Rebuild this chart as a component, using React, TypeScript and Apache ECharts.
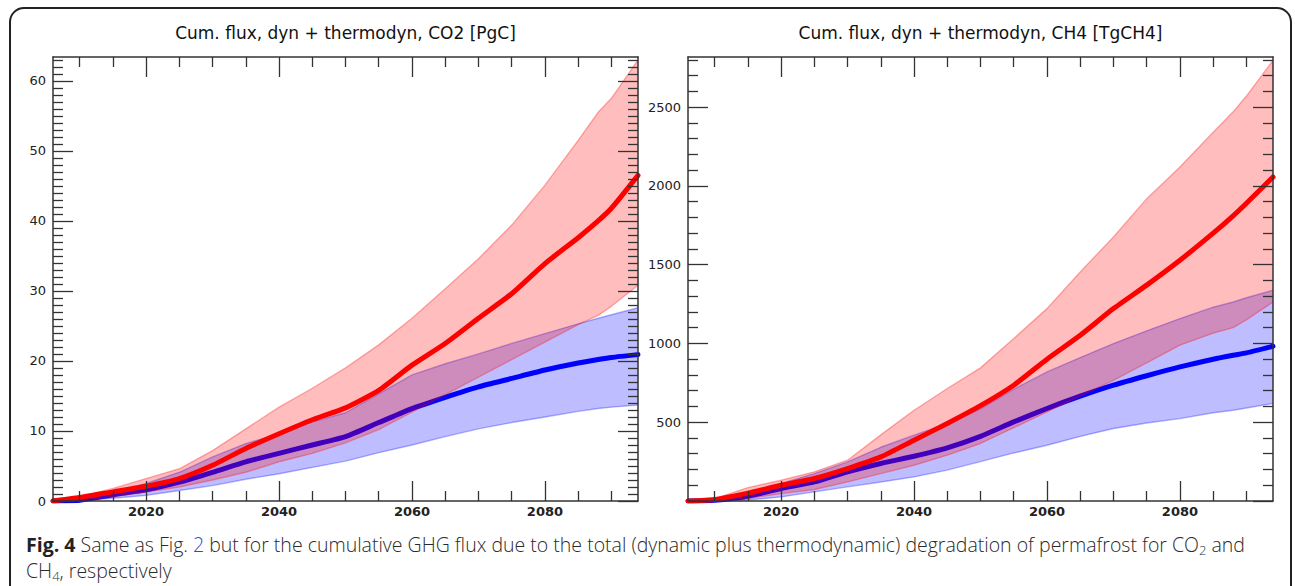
import React, { useEffect, useRef } from "react";
import * as echarts from "echarts";

// ---------- data ----------
const years = [2006, 2010, 2015, 2020, 2025, 2030, 2035, 2040, 2045, 2050, 2055, 2060, 2065, 2070, 2075, 2080, 2085, 2088, 2090, 2094];

const co2RedMean = [0, 0.5, 1.3, 2.1, 3.2, 5.1, 7.5, 9.6, 11.6, 13.3, 15.8, 19.4, 22.5, 26.1, 29.6, 33.9, 37.6, 40.0, 41.8, 46.5];
const co2RedUpper = [0, 0.6, 1.8, 3.2, 4.6, 7.2, 10.3, 13.4, 16.1, 19.0, 22.3, 26.1, 30.3, 34.6, 39.4, 45.1, 51.5, 55.5, 57.5, 63.0];
const co2RedLower = [0, 0.1, 0.6, 1.3, 2.0, 3.0, 4.1, 5.6, 6.8, 8.3, 10.2, 12.7, 15.2, 17.7, 20.2, 22.7, 25.2, 26.5, 27.8, 30.8];
const co2BlueMean = [0, 0.1, 0.9, 1.6, 2.7, 4.1, 5.6, 6.8, 8.0, 9.2, 11.2, 13.2, 14.8, 16.3, 17.5, 18.7, 19.7, 20.2, 20.5, 20.9];
const co2BlueUpper = [0, 0.2, 1.2, 2.5, 4.1, 6.3, 8.2, 9.6, 11.3, 12.6, 15.3, 18.0, 19.6, 21.0, 22.5, 23.9, 25.3, 26.1, 26.6, 27.6];
const co2BlueLower = [0, 0.05, 0.4, 0.8, 1.5, 2.2, 3.1, 3.9, 4.8, 5.7, 6.9, 8.0, 9.2, 10.3, 11.2, 12.0, 12.8, 13.2, 13.4, 13.7];

const ch4RedMean = [0, 10, 50, 100, 143, 206, 280, 386, 492, 605, 735, 900, 1052, 1221, 1370, 1528, 1700, 1810, 1890, 2057];
const ch4RedUpper = [0, 15, 85, 132, 185, 259, 420, 576, 714, 845, 1031, 1221, 1454, 1676, 1919, 2120, 2340, 2470, 2570, 2797];
const ch4RedLower = [0, 2, 16, 47, 73, 121, 174, 227, 291, 365, 465, 565, 665, 766, 877, 989, 1065, 1100, 1150, 1263];
const ch4BlueMean = [0, 5, 30, 79, 121, 185, 238, 284, 337, 410, 502, 587, 665, 735, 795, 851, 900, 925, 940, 982];
const ch4BlueUpper = [0, 8, 50, 111, 174, 248, 341, 418, 492, 585, 710, 819, 910, 999, 1080, 1158, 1230, 1263, 1290, 1338];
const ch4BlueLower = [0, 1, 6, 26, 58, 90, 121, 153, 196, 250, 305, 354, 410, 460, 495, 523, 560, 576, 590, 619];

const xMajor = [2020, 2040, 2060, 2080];
const xMinor = [2010, 2015, 2025, 2030, 2035, 2045, 2050, 2055, 2065, 2070, 2075, 2085, 2090];

const co2YLabels = [0, 10, 20, 30, 40, 50, 60];
const co2YMajor = [0, 10, 20, 30, 40, 50, 60];
const ch4YLabels = [500, 1000, 1500, 2000, 2500];
const ch4YMajor = [0, 500, 1000, 1500, 2000, 2500];

const titles = ["Cum. flux, dyn + thermodyn, CO2 [PgC]", "Cum. flux, dyn + thermodyn, CH4 [TgCH4]"];

// ---------- layout / style ----------
const X_MIN = 2006;
const X_MAX = 2094;
const CO2_MAX = 63.4;
const CH4_MAX = 2818;
const GRID_TOP = 57;
const GRID_H = 444;
const GRID_W = 585;
const GRID_LEFTS = [53, 688];
const AX = "#333";
const FONT = "DejaVu Sans";
const CAP_FONT = "Open Sans";
const CAP_SIZE = 19.5;

function minorTicks(step: number, max: number, majorStep: number) {
  const out: number[] = [];
  for (let v = step; v <= max + 1e-9; v += step) {
    const r = Math.round(v * 1000) / 1000;
    if (Math.abs(r / majorStep - Math.round(r / majorStep)) > 1e-6) out.push(r);
  }
  return out;
}

const co2YMinor = minorTicks(1, CO2_MAX, 10);
const ch4YMinor = minorTicks(100, CH4_MAX, 500);

const fmt = (v: number) => String(v);

function tickStyle(vals: number[], len: number) {
  return {
    show: true,
    inside: true,
    length: len,
    customValues: vals,
    lineStyle: { color: AX, width: 1.3 },
  };
}
const axLine = { show: true, onZero: false, lineStyle: { color: AX, width: 1.5 } };
const noLine = { show: false, onZero: false };

function xAxes(gridIndex: number) {
  const base = { type: "value", gridIndex, min: X_MIN, max: X_MAX, splitLine: { show: false }, z: 10 };
  return [
    {
      ...base,
      position: "bottom",
      axisLine: axLine,
      axisTick: tickStyle(xMajor, 20),
      axisLabel: {
        show: true,
        customValues: xMajor,
        formatter: fmt,
        margin: 4,
        color: "#222",
        fontFamily: FONT,
        fontSize: 13,
        fontWeight: "bold",
      },
    },
    { ...base, position: "bottom", axisLine: noLine, axisTick: tickStyle(xMinor, 10), axisLabel: { show: false } },
    { ...base, position: "top", axisLine: axLine, axisTick: tickStyle(xMajor, 20), axisLabel: { show: false } },
    { ...base, position: "top", axisLine: noLine, axisTick: tickStyle(xMinor, 10), axisLabel: { show: false } },
  ];
}

function yAxes(gridIndex: number, max: number, major: number[], minor: number[], labels: number[]) {
  const base = { type: "value", gridIndex, min: 0, max, splitLine: { show: false }, z: 10 };
  return [
    {
      ...base,
      position: "left",
      axisLine: axLine,
      axisTick: tickStyle(major, 20),
      axisLabel: {
        show: true,
        customValues: labels,
        formatter: fmt,
        margin: 7,
        color: "#222",
        fontFamily: FONT,
        fontSize: 13,
      },
    },
    { ...base, position: "left", axisLine: noLine, axisTick: tickStyle(minor, 10), axisLabel: { show: false } },
    { ...base, position: "right", axisLine: axLine, axisTick: tickStyle(major, 20), axisLabel: { show: false } },
    { ...base, position: "right", axisLine: noLine, axisTick: tickStyle(minor, 10), axisLabel: { show: false } },
  ];
}

function edgeLine(id: string, vals: number[], rgb: string, axisIdx: number, z: number) {
  return {
    type: "line",
    id,
    z,
    xAxisIndex: axisIdx,
    yAxisIndex: axisIdx,
    data: years.map((y, i) => [y, vals[i]]),
    symbol: "none",
    lineStyle: { color: `rgba(${rgb},0.3)`, width: 1.4 },
    silent: true,
  };
}

function band(id: string, lower: number[], upper: number[], rgb: string, axisIdx: number, z: number) {
  return [
    {
      type: "custom",
      id: id + "-fill",
      z,
      xAxisIndex: axisIdx,
      yAxisIndex: axisIdx,
      data: [[X_MIN, 0]],
      silent: true,
      renderItem: (_params: any, api: any) => {
        const pts: number[][] = [];
        for (let i = 0; i < years.length; i++) pts.push(api.coord([years[i], upper[i]]));
        for (let i = years.length - 1; i >= 0; i--) pts.push(api.coord([years[i], lower[i]]));
        return {
          type: "polygon",
          shape: { points: pts },
          style: { fill: `rgba(${rgb},0.26)`, stroke: "none" },
        };
      },
    },
    edgeLine(id + "-lo", lower, rgb, axisIdx, z),
    edgeLine(id + "-hi", upper, rgb, axisIdx, z),
  ];
}

function meanLine(id: string, vals: number[], color: string, axisIdx: number, z: number) {
  return {
    type: "line",
    id,
    z,
    xAxisIndex: axisIdx,
    yAxisIndex: axisIdx,
    data: years.map((y, i) => [y, vals[i]]),
    symbol: "none",
    smooth: 0.2,
    lineStyle: { color, width: 5, cap: "round", join: "round" },
    silent: true,
  };
}

function buildOption() {
  const grid = GRID_LEFTS.map((l) => ({
    left: l,
    top: GRID_TOP,
    width: GRID_W,
    height: GRID_H,
    containLabel: false,
    outerBoundsMode: "none",
  }));
  const xAxis = [...xAxes(0), ...xAxes(1)];
  const yAxis = [
    ...yAxes(0, CO2_MAX, co2YMajor, co2YMinor, co2YLabels),
    ...yAxes(1, CH4_MAX, ch4YMajor, ch4YMinor, ch4YLabels),
  ];
  const series = [
    ...band("co2Blue", co2BlueLower, co2BlueUpper, "0,0,255", 0, 1),
    meanLine("co2BlueMean", co2BlueMean, "#0000ff", 0, 2),
    ...band("co2Red", co2RedLower, co2RedUpper, "255,0,0", 0, 3),
    meanLine("co2RedMean", co2RedMean, "#ff0000", 0, 4),
    ...band("ch4Blue", ch4BlueLower, ch4BlueUpper, "0,0,255", 4, 1),
    meanLine("ch4BlueMean", ch4BlueMean, "#0000ff", 4, 2),
    ...band("ch4Red", ch4RedLower, ch4RedUpper, "255,0,0", 4, 3),
    meanLine("ch4RedMean", ch4RedMean, "#ff0000", 4, 4),
  ];
  const capRich = {
    b: { fontFamily: CAP_FONT, fontSize: CAP_SIZE, fontWeight: "bold", fill: "#222", lineHeight: 24 },
    l: { fontFamily: CAP_FONT, fontSize: CAP_SIZE, fontWeight: 300, fill: "#1a4fd6", lineHeight: 24 },
    s: { fontFamily: CAP_FONT, fontSize: 13, fontWeight: 300, fill: "#333", verticalAlign: "bottom", lineHeight: 24 },
  };
  const capStyle = {
    fontFamily: CAP_FONT,
    fontSize: CAP_SIZE,
    fontWeight: 300,
    lineHeight: 24,
    fill: "#2a2a2a",
    align: "left",
    verticalAlign: "middle",
    textAlign: "left",
    textVerticalAlign: "middle",
    rich: capRich,
  };
  const graphic = [
    {
      type: "rect",
      shape: { x: 10, y: 8, width: 1281, height: 640, r: 14 },
      style: { fill: "none", stroke: "#222", lineWidth: 2 },
      silent: true,
    },
    ...titles.map((t, i) => ({
      type: "text",
      x: GRID_LEFTS[i] + GRID_W / 2,
      y: 33,
      style: {
        text: t,
        fontFamily: FONT,
        fontSize: 17,
        fill: "#111",
        align: "center",
        verticalAlign: "middle",
        textAlign: "center",
        textVerticalAlign: "middle",
      },
      silent: true,
    })),
    {
      type: "text",
      x: 26,
      y: 544,
      style: {
        ...capStyle,
        text:
          "{b|Fig. 4} Same as Fig. {l|2} but for the cumulative GHG flux due to the total (dynamic plus thermodynamic) degradation of permafrost for CO{s|2} and",
      },
      silent: true,
    },
    {
      type: "text",
      x: 26,
      y: 570,
      style: { ...capStyle, text: "CH{s|4}, respectively" },
      silent: true,
    },
  ];
  return {
    animation: false,
    backgroundColor: "#fff",
    grid,
    xAxis,
    yAxis,
    series,
    graphic,
  };
}

export default function App() {
  const ref = useRef<HTMLDivElement>(null);
  useEffect(() => {
    if (!ref.current) return;
    const chart = echarts.init(ref.current, null, { renderer: "svg" });
    chart.setOption(buildOption() as any);
    return () => chart.dispose();
  }, []);
  return (
    <div
      ref={ref}
      style={{ position: "fixed", left: 0, top: 0, width: 1295, height: 586, background: "#fff" }}
    />
  );
}
